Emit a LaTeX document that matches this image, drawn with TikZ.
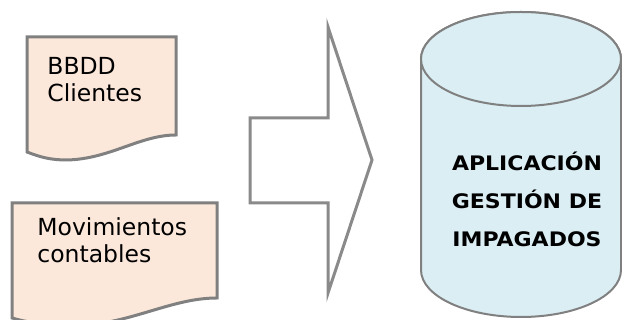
\documentclass[tikz,border=0pt]{standalone}
\usepackage{fontspec}
\setmainfont{DejaVu Sans}
\newfontfamily\titlefont[FakeStretch=1.1]{DejaVu Sans}
\definecolor{sheetfill}{HTML}{FCE8DA}
\definecolor{drumfill}{HTML}{DBEEF4}
\definecolor{edgegrey}{HTML}{808080}
\definecolor{arrowgrey}{HTML}{8A8A8A}
\tikzset{
  docsheet/.style={fill=sheetfill, draw=edgegrey, line width=1.5pt, line join=miter},
  bigarrow/.style={fill=white, draw=arrowgrey, line width=1.5pt, line join=miter},
  drum/.style={fill=drumfill, draw=edgegrey, line width=1pt},
  % multi-line labels are placed by the baseline of their last line
  doclabel/.style={anchor=base west, inner sep=0pt, align=left,
    font=\fontsize{11.75pt}{13.5pt}\selectfont},
  drumlabel/.style={anchor=base, inner sep=0pt, align=center,
    font=\titlefont\bfseries\fontsize{10pt}{19pt}\selectfont}
}
\begin{document}
\begin{tikzpicture}[x=0.5pt, y=0.5pt]
\useasboundingbox (0,0) rectangle (622,320);
\clip (0,0) rectangle (622,320);

% source documents
\draw[docsheet] (27,283) -- (176,283) -- (176,185)
  .. controls (140,185) and (110,161) .. (67,160)
  .. controls (50,160) and (40,163) .. (27,168) -- cycle;
\draw[docsheet] (12,117) -- (217,117) -- (217,22)
  .. controls (170,22) and (130,-5) .. (72,-6)
  .. controls (50,-6) and (30,-3) .. (12,2) -- cycle;
\node[doclabel] (clientes) at (47,218) {BBDD\\Clientes};
\node[doclabel] (movimientos) at (37,57) {Movimientos\\contables};

% block arrow
\draw[bigarrow] (250,202) -- (328,202) -- (328,293) -- (372,160)
  -- (328,27) -- (328,117) -- (250,117) -- cycle;

% application cylinder
\draw[drum] (421,261) -- (421,50)
  arc[start angle=180, end angle=360, x radius=50pt, y radius=23.5pt]
  -- (621,261)
  arc[start angle=0, end angle=180, x radius=50pt, y radius=23.5pt] -- cycle;
\draw[drum] (521,261) ellipse [x radius=50pt, y radius=23.5pt];
\node[drumlabel] (app) at (527,73) {APLICACIÓN\\GESTIÓN DE\\IMPAGADOS};
\end{tikzpicture}
\end{document}
